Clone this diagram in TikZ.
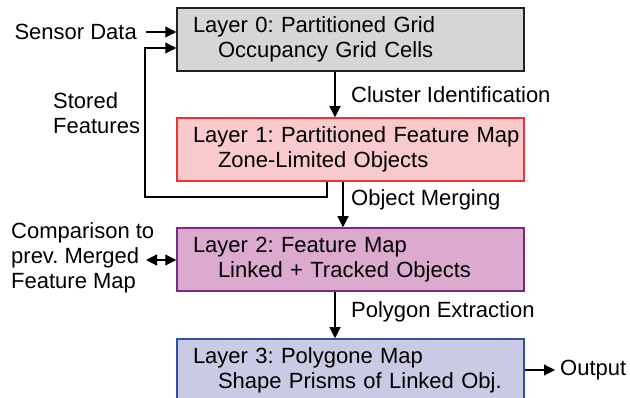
\documentclass[tikz,border=0pt]{standalone}
\usepackage{fontspec}
\setmainfont{Liberation Sans}
\frenchspacing
\usetikzlibrary{arrows.meta}
\definecolor{grayfill}{HTML}{D6D6D6}
\definecolor{grayline}{HTML}{222222}
\definecolor{redfill}{HTML}{F9CACB}
\definecolor{redline}{HTML}{EE3333}
\definecolor{purplefill}{HTML}{DCAACE}
\definecolor{purpleline}{HTML}{7A2A80}
\definecolor{bluefill}{HTML}{CACAE4}
\definecolor{blueline}{HTML}{3050A8}
\tikzset{
  layer/.style={draw, line width=1.5pt, rectangle, minimum width=347pt, minimum height=63pt,
    text width=345pt, inner xsep=1pt, align=left, font=\fontsize{22}{25.3}\selectfont},
  txt/.style={inner sep=0pt, align=left, font=\fontsize{22}{25.3}\selectfont},
  flow/.style={line width=1.2pt, -{Triangle[length=11pt,width=11pt]}},
}
\begin{document}
\begin{tikzpicture}[x=1pt,y=-1pt]
\useasboundingbox (0,0) rectangle (630,398);
\node[layer, fill=grayfill, draw=grayline] (l0) at (350.5,39.5) {\hspace*{15pt}Layer 0: Partitioned Grid\\\hspace*{40pt}Occupancy Grid Cells};
\node[layer, fill=redfill, draw=redline] (l1) at (350.5,149.5) {\hspace*{15pt}Layer 1: Partitioned Feature Map\\\hspace*{40pt}Zone-Limited Objects};
\node[layer, fill=purplefill, draw=purpleline] (l2) at (350.5,259.5) {\hspace*{15pt}Layer 2: Feature Map\\\hspace*{40pt}Linked + Tracked Objects};
\node[layer, fill=bluefill, draw=blueline] (l3) at (350.5,370.5) {\hspace*{15pt}Layer 3: Polygone Map\\\hspace*{40pt}Shape Prisms of Linked Obj.};
\node[txt, anchor=east] (sensor) at (137,32) {Sensor Data};
\node[txt, anchor=west] (stored) at (53,113) {Stored\\Features};
\node[txt, anchor=west] (compare) at (11,258) {Comparison to\\prev. Merged\\Feature Map};
\node[txt, anchor=west] (out) at (560,370) {Output};
\node[txt, anchor=west] (cluster) at (351,95) {Cluster Identification};
\node[txt, anchor=west] (merging) at (351,200) {Object Merging};
\node[txt, anchor=west] (poly) at (351,312) {Polygon Extraction};
\coordinate (fb) at (145,197);
\draw[flow] (sensor.east)++(9,0) -- (sensor.east -| l0.west);
\draw[flow] (l1.south -| 327,0) |- (fb) |- ([yshift=-8.5pt]l0.west);
\draw[flow] (l0.south -| 335,0) -- (l1.north -| 335,0);
\draw[flow] (l1.south -| 343,0) -- (l2.north -| 343,0);
\draw[flow] (l2.south -| 335,0) -- (l3.north -| 335,0);
\draw[line width=1.2pt, {Triangle[length=11pt,width=11pt]}-{Triangle[length=11pt,width=11pt]}] (146,260) -- (l2.west |- 0,260);
\draw[flow] (l3.east |- out.west) -- ([xshift=-5pt]out.west);
\end{tikzpicture}
\end{document}
